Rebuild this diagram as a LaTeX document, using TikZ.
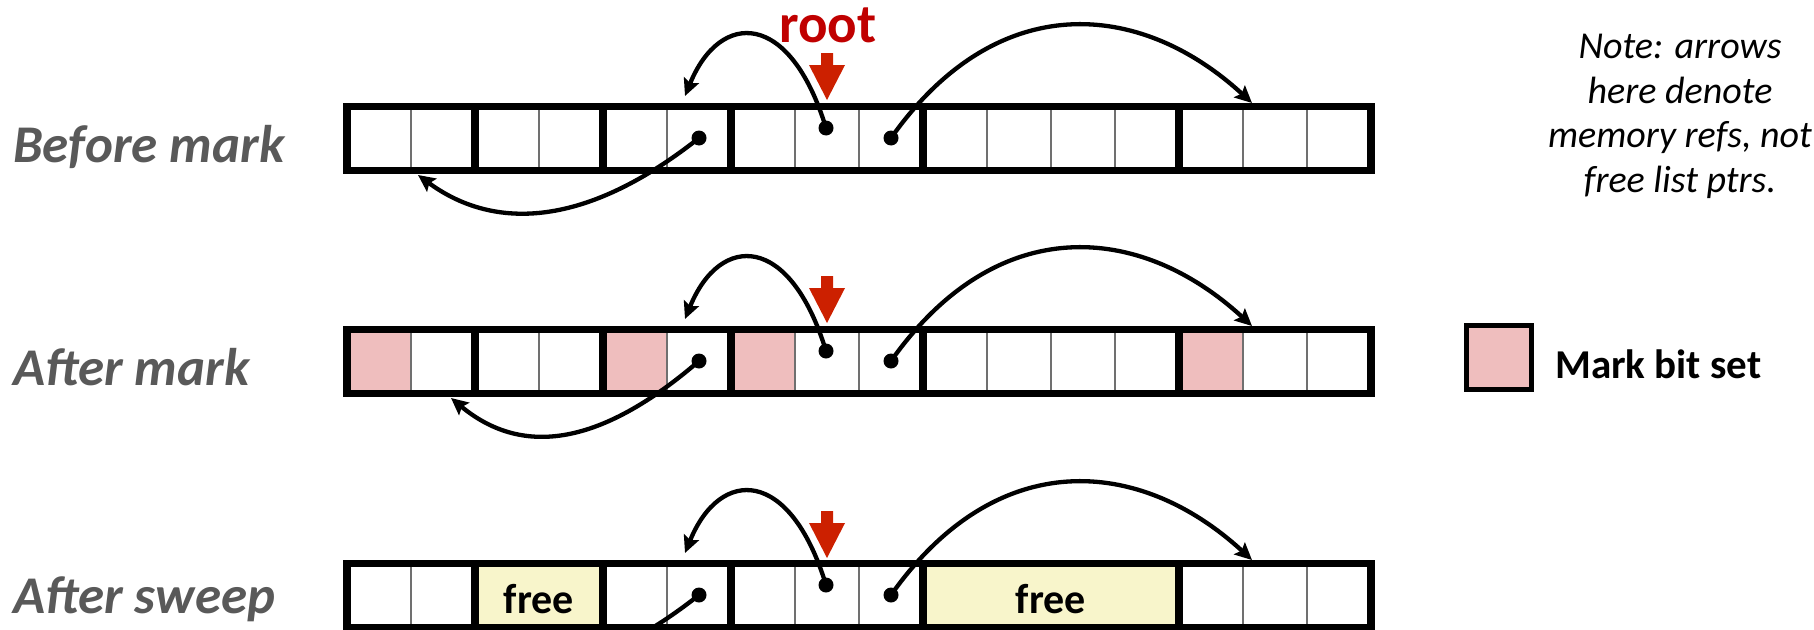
\documentclass[tikz,border=0pt]{standalone}
\usepackage{fontspec}
\setmainfont{Carlito}
\usetikzlibrary{arrows.meta}
\definecolor{lblgray}{HTML}{595959}
\definecolor{rootred}{HTML}{C00000}
\definecolor{arrowred}{RGB}{204,32,0}
\definecolor{markpink}{HTML}{EFBEBE}
\definecolor{freeyellow}{HTML}{F8F5CB}
\definecolor{thingray}{HTML}{707070}
\begin{document}
\begin{tikzpicture}[x=1pt,y=-1pt,
  cellline/.style={draw=thingray, line width=1.6pt},
  blockbox/.style={draw=black, line width=7.3pt},
  dotnode/.style={circle, fill=black, inner sep=0pt, minimum size=15pt},
  ptr/.style={line width=4.3pt, -{Stealth[length=17pt,width=16pt,inset=3pt]}},
  rowlbl/.style={font=\fontsize{53}{60}\selectfont\bfseries\itshape, text=lblgray, inner sep=0pt, anchor=base west},
  freelbl/.style={font=\fontsize{42}{48}\selectfont\bfseries, inner sep=0pt, anchor=base},
  rootarrow/.style={fill=arrowred}]
\useasboundingbox (0,0) rectangle (1814,629);
\clip (0,0) rectangle (1814,629);

% ---------- Row 1: Before mark ----------
\begin{scope}
  \foreach \i in {1,3,5,7,8,10,11,12,14,15}
    \draw[cellline] ({347+64*\i},106.5) -- ({347+64*\i},170.5);
  \foreach \a/\b in {0/2,2/4,4/6,6/9,9/13,13/16}
    \draw[blockbox] ({347+64*\a},106.5) rectangle ({347+64*\b},170.5);
  \fill[rootarrow] (821,53) -- (833,53) -- (833,65) -- (845,65) -- (827,100) -- (809,65) -- (821,65) -- cycle;
  \node[dotnode] (r1a) at (699,138) {};
  \node[dotnode] (r1b) at (826,128) {};
  \node[dotnode] (r1c) at (891,138) {};
  \coordinate (r1ta) at (418,175);
  \coordinate (r1tb) at (685,96);
  \coordinate (r1tc) at (1252,103);
  \draw[ptr] (r1a.center) .. controls +(-119,94) and +(72,53) .. (r1ta);
  \draw[ptr] (r1b.center) .. controls +(-36,-118) and +(35,-86) .. (r1tb);
  \draw[ptr] (r1c.center) .. controls +(106,-150) and +(-112,-103) .. (r1tc);
\end{scope}

% ---------- Row 2: After mark ----------
\begin{scope}[shift={(0,223)}]
  \foreach \i in {0,4,6,13}
    \fill[markpink] ({347+64*\i},106.5) rectangle ({347+64*(\i+1)},170.5);
  \foreach \i in {1,3,5,7,8,10,11,12,14,15}
    \draw[cellline] ({347+64*\i},106.5) -- ({347+64*\i},170.5);
  \foreach \a/\b in {0/2,2/4,4/6,6/9,9/13,13/16}
    \draw[blockbox] ({347+64*\a},106.5) rectangle ({347+64*\b},170.5);
  \fill[rootarrow] (821,53) -- (833,53) -- (833,65) -- (845,65) -- (827,100) -- (809,65) -- (821,65) -- cycle;
  \node[dotnode] (r2a) at (699,138) {};
  \node[dotnode] (r2b) at (826,128) {};
  \node[dotnode] (r2c) at (891,138) {};
  \coordinate (r2ta) at (451,175);
  \coordinate (r2tb) at (685,96);
  \coordinate (r2tc) at (1252,103);
  \draw[ptr] (r2a.center) .. controls +(-109,94) and +(64,53) .. (r2ta);
  \draw[ptr] (r2b.center) .. controls +(-36,-118) and +(35,-86) .. (r2tb);
  \draw[ptr] (r2c.center) .. controls +(106,-150) and +(-112,-103) .. (r2tc);
\end{scope}

% ---------- Row 3: After sweep ----------
\begin{scope}[shift={(0,457)}]
  \fill[freeyellow] (475,106.5) rectangle (603,170.5);
  \fill[freeyellow] (923,106.5) rectangle (1179,170.5);
  \foreach \i in {1,5,7,8,14,15}
    \draw[cellline] ({347+64*\i},106.5) -- ({347+64*\i},170.5);
  \foreach \a/\b in {0/2,2/4,4/6,6/9,9/13,13/16}
    \draw[blockbox] ({347+64*\a},106.5) rectangle ({347+64*\b},170.5);
  \node[freelbl] (free1) at (539,156) {free};
  \node[freelbl] (free2) at (1051,156) {free};
  \fill[rootarrow] (821,54) -- (833,54) -- (833,66) -- (845,66) -- (827,101) -- (809,66) -- (821,66) -- cycle;
  \node[dotnode] (r3a) at (699,138) {};
  \node[dotnode] (r3b) at (826,128) {};
  \node[dotnode] (r3c) at (891,138) {};
  \coordinate (r3ta) at (418,175);
  \coordinate (r3tb) at (685,96);
  \coordinate (r3tc) at (1252,103);
  \draw[ptr] (r3a.center) .. controls +(-119,94) and +(72,53) .. (r3ta);
  \draw[ptr] (r3b.center) .. controls +(-36,-118) and +(35,-86) .. (r3tb);
  \draw[ptr] (r3c.center) .. controls +(106,-150) and +(-112,-103) .. (r3tc);
\end{scope}

% ---------- Labels ----------
\node[rowlbl] (lbl1) at (13,162) {Before mark};
\node[rowlbl] (lbl2) at (13,385) {After mark};
\node[rowlbl] (lbl3) at (13,613) {After sweep};
\node[font=\fontsize{55}{60}\selectfont\bfseries, text=rootred, inner sep=0pt, anchor=base] (root) at (828,42) {root};

\node[align=center, font=\fontsize{38}{44.7}\selectfont\itshape, inner sep=0pt, anchor=north] (note) at (1680,34)
  {Note: arrows\\here denote\\memory refs, not\\free list ptrs.};

\node[draw=black, line width=5pt, fill=markpink, minimum size=64.5pt, inner sep=0pt] (legend) at (1498.75,357.25) {};
\node[font=\fontsize{41}{48}\selectfont\bfseries, inner sep=0pt, anchor=base west] (legtxt) at (1555,378) {Mark bit set};
\end{tikzpicture}
\end{document}
